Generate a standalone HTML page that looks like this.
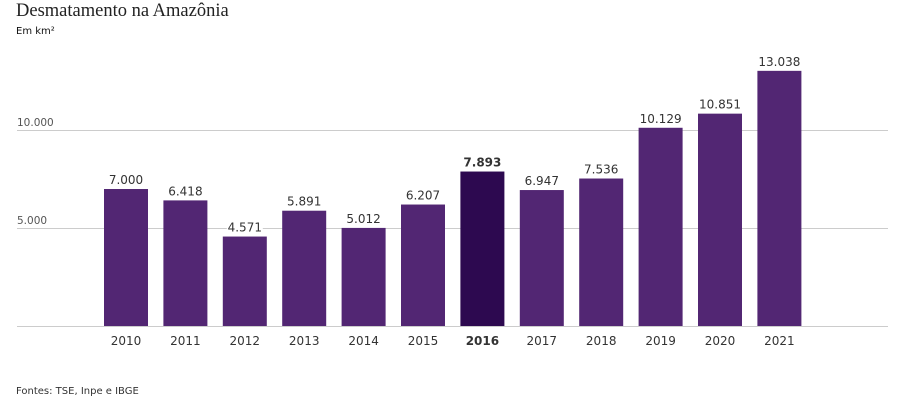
<!DOCTYPE html>
<html><head><meta charset="utf-8"><style>
body{margin:0;background:#fff;width:919px;height:409px;overflow:hidden}
svg{display:block}
text{font-family:"DejaVu Sans","Liberation Sans",sans-serif}
</style></head><body>
<svg width="919" height="409" xmlns="http://www.w3.org/2000/svg">
<text x="16" y="16" style="font-family:'Liberation Serif',serif" font-size="18.5" fill="#222">Desmatamento na Amazônia</text>
<text x="16" y="34" font-size="10" fill="#111">Em km²</text>
<line x1="17" y1="130.5" x2="888" y2="130.5" stroke="#ccc"/>
<line x1="17" y1="228.5" x2="888" y2="228.5" stroke="#ccc"/>
<line x1="17" y1="326.5" x2="888" y2="326.5" stroke="#ccc"/>
<text x="17" y="126" font-size="10.5" fill="#555">10.000</text>
<text x="17" y="224" font-size="10.5" fill="#555">5.000</text>
<g id="bars"></g>
<text x="16" y="394" font-size="10" fill="#333">Fontes: TSE, Inpe e IBGE</text>
</svg>
<script>
var d=[7000,6418,4571,5891,5012,6207,7893,6947,7536,10129,10851,13038];
var g=document.getElementById('bars'),s='';
function fmt(v){var t=String(v);return t.length>3?t.slice(0,t.length-3)+'.'+t.slice(-3):t;}
for(var i=0;i<12;i++){var x=104+i*59.4,h=d[i]*0.01957,y=326-h,b=i==6;
s+='<rect x="'+x+'" y="'+y+'" width="44" height="'+h+'" fill="'+(b?'#2d0950':'#522673')+'"/>';
s+='<rect x="'+(x+4)+'" y="'+(y-16)+'" width="36" height="13" fill="#fff"/>';
s+='<text x="'+(x+22)+'" y="'+(y-5)+'" text-anchor="middle" font-size="12" fill="#333"'+(b?' font-weight="bold"':'')+'>'+fmt(d[i])+'</text>';
s+='<text x="'+(x+22)+'" y="345" text-anchor="middle" font-size="12" fill="#333"'+(b?' font-weight="bold"':'')+'>'+(2010+i)+'</text>';}
g.innerHTML=s;
</script>
</body></html>
